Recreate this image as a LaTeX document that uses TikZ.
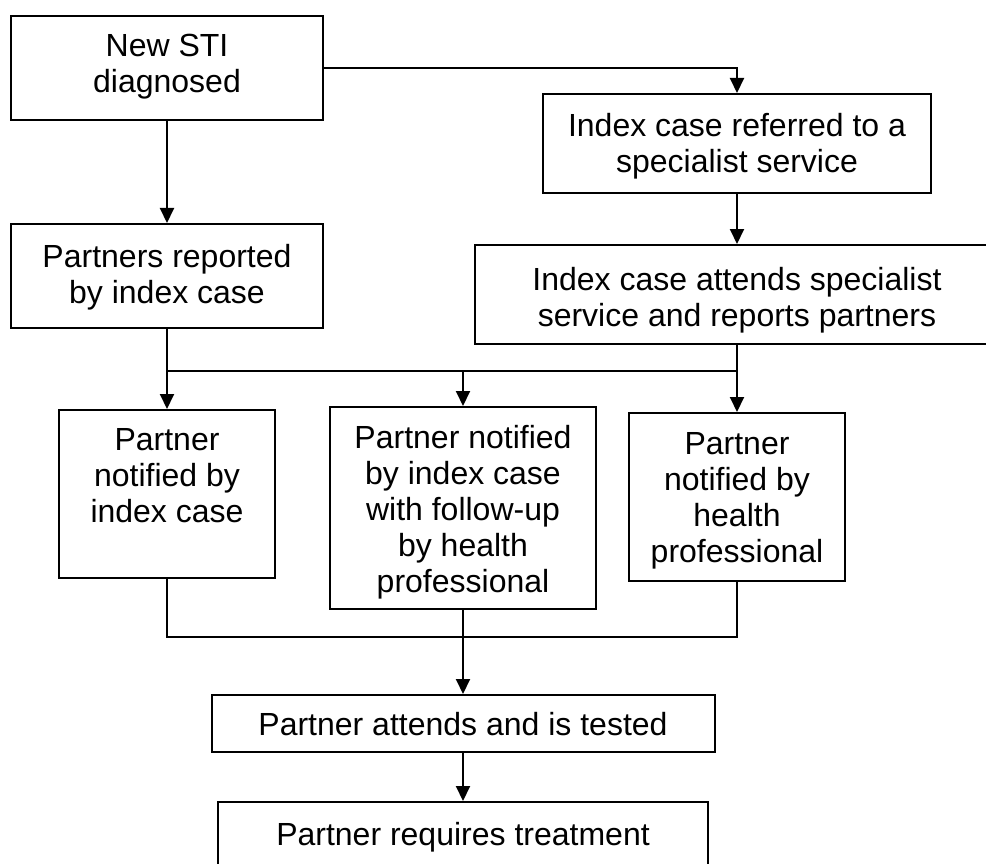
\documentclass[tikz,border=0pt]{standalone}
\usepackage{fontspec}
\setmainfont{Liberation Sans}
\usetikzlibrary{arrows.meta}
\begin{document}
\begin{tikzpicture}[x=1pt,y=-1pt,
  box/.style={draw,line width=2pt,inner sep=0pt,fill=none},
  txt/.style={align=center,inner sep=0pt,anchor=north,font=\fontsize{32}{36}\selectfont},
  conn/.style={line width=2pt},
  arr/.style={line width=2pt,-{Triangle[length=15pt,width=14pt]}}]
\fill[white] (0,0) rectangle (986,864);
\useasboundingbox (0,0) rectangle (986,864);
% boxes
\node[box,minimum width=312pt,minimum height=104pt] (b1) at (167,68) {};
\node[box,minimum width=388pt,minimum height=99pt] (b2) at (737,143.5) {};
\node[box,minimum width=312pt,minimum height=104pt] (b3) at (167,276) {};
\node[box,minimum width=524pt,minimum height=99pt] (b4) at (737,294.5) {};
\node[box,minimum width=216pt,minimum height=168pt] (b5) at (167,494) {};
\node[box,minimum width=266pt,minimum height=202pt] (b6) at (463,508) {};
\node[box,minimum width=216pt,minimum height=168pt] (b7) at (737,497) {};
\node[box,minimum width=503pt,minimum height=57pt] (b8) at (463,723.5) {};
\node[box,minimum width=490pt,minimum height=64pt] (b9) at (463,834) {};
% texts
\node[txt] (t1) at (167,34) {New STI\\diagnosed};
\node[txt] (t2) at (737,113) {Index case referred to a\\specialist service};
\node[txt] (t3) at (167,244) {Partners reported\\by index case};
\node[txt] (t4) at (737,267) {Index case attends specialist\\service and reports partners};
\node[txt] (t5) at (167,428) {Partner\\notified by\\index case};
\node[txt] (t6) at (463,425) {Partner notified\\by index case\\with follow-up\\by health\\professional};
\node[txt] (t7) at (737,432) {Partner\\notified by\\health\\professional};
\node[txt] (t8) at (463,712) {Partner attends and is tested};
\node[txt] (t9) at (463,822) {Partner requires treatment};
% junctions
\coordinate (j1) at (167,371);
\coordinate (j2) at (737,371);
\coordinate (k) at (463,637);
% connectors
\draw[arr] (b1.east) -| (b2.north);
\draw[arr] (b1.south) -- (b3.north);
\draw[arr] (b2.south) -- (b4.north);
\draw[arr] (b3.south) -- (b5.north);
\draw[conn] (j1) -- (j2);
\draw[arr] (j1 -| b6.north) -- (b6.north);
\draw[arr] (b4.south) -- (b7.north);
\draw[conn] (b5.south) |- (k) -| (b7.south);
\draw[arr] (b6.south) -- (b8.north);
\draw[arr] (b8.south) -- (b9.north);
\end{tikzpicture}
\end{document}
